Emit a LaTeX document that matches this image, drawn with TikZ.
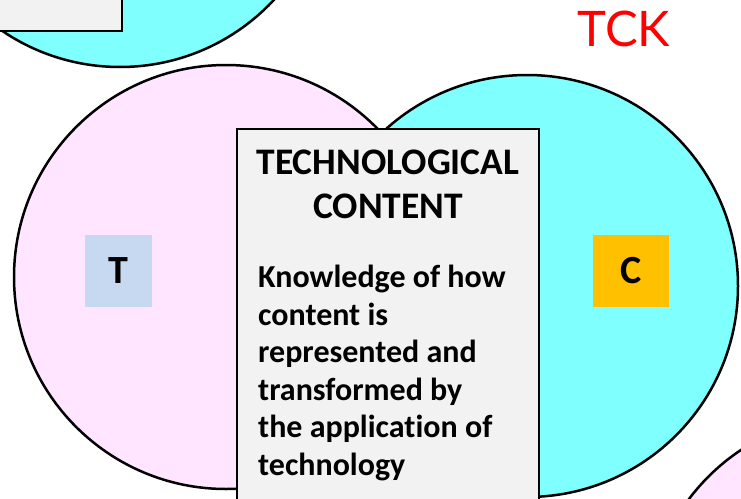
\documentclass[tikz,border=0pt]{standalone}
\usepackage{fontspec}
\setmainfont[Ligatures=NoCommon]{Carlito}
\newfontfamily\tckfont{Lato}
\usepackage{tikz}
\usetikzlibrary{positioning}
\definecolor{tpink}{HTML}{FFE5FF}
\definecolor{ccyan}{HTML}{80FFFF}
\definecolor{tblue}{HTML}{C6D9F1}
\definecolor{corange}{HTML}{FFC000}
\definecolor{boxgray}{HTML}{F2F2F2}
\tikzset{
    ring/.style={draw=black, line width=2.5pt}, % outline of every circle
    textbox/.style={draw=black, line width=2pt, fill=boxgray, inner sep=0pt}, % grey text boxes
    }
\begin{document}
\begin{tikzpicture}[x=1pt, y=-1pt, letterbox/.style={minimum height=72pt, inner sep=0pt, font=\bfseries\fontsize{40}{44}\selectfont}]
\useasboundingbox (0,0) rectangle (741,498);
\coordinate (tl) at (120,-143);
\coordinate (tcirc) at (226,277);
\coordinate (ccirc) at (527,286);
\coordinate (br) at (857,625);

% circles
\fill[ccyan] (tl) circle (210);
\draw[ring] (tl) circle (210);
\fill[tpink] (br) circle (210);
\draw[ring] (br) circle (210);
\fill[tpink] (tcirc) circle (212);
\fill[ccyan] (ccirc) circle (211);
\begin{scope}
\clip (tcirc) circle (212);
\fill[white] (ccirc) circle (211);
\end{scope}
\draw[ring] (tcirc) circle (212);
\draw[ring] (ccirc) circle (211);

\node[textbox, anchor=south east, minimum width=200pt, minimum height=100pt] (oldbox) at (123,32) {};

\node[letterbox, fill=tblue, minimum width=67pt] (t) at (118.5,271) {T};
\node[letterbox, fill=corange, minimum width=76pt] (c) at (631,271) {C};
\node[text=red, inner sep=0pt, font=\tckfont\fontsize{49}{52}\selectfont] (tck) at (624,29) {TCK};

\node[textbox, anchor=north west, minimum width=302pt, minimum height=372pt] (tcbox) at (236,128) {};
\node[anchor=north, inner sep=0pt, align=center, font=\bfseries\fontsize{37.5}{44}\selectfont] (title) at ([yshift=-22pt]tcbox.north) {TECHNOLOGICAL\\CONTENT};
\node[anchor=north west, inner sep=0pt, align=left, font=\bfseries\fontsize{32}{37.5}\selectfont] (body) at (258,265) {Knowledge of how\\content is\\represented and\\transformed by\\the application of\\technology};
\end{tikzpicture}
\end{document}
